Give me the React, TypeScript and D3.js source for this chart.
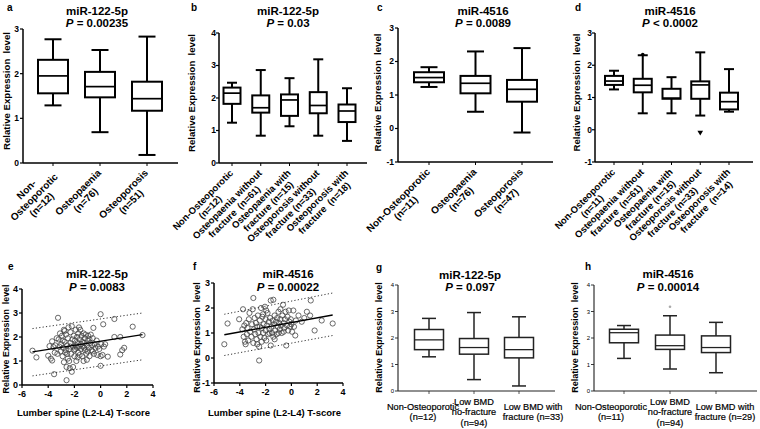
import React from 'react';
import * as d3 from 'd3';

const FONT = '"Liberation Sans", Arial, Helvetica, sans-serif';

// ---------- data ----------
// box stats: [lower whisker, Q1, median, Q3, upper whisker]
const aLabels = [["Non-", "Osteoporotic", "(n=12)"], ["Osteopaenia", "(n=76)"], ["Osteoporosis", "(n=51)"]];
const aStats = [[1.29, 1.56, 1.95, 2.31, 2.77], [0.69, 1.47, 1.71, 2.04, 2.53], [0.18, 1.17, 1.44, 1.82, 2.83]];
const aTicks = [0, 1, 2, 3];

const bLabels = [["Non-Osteoporotic", "(n=12)"], ["Osteopaenia without", "fracture  (n=61)"], ["Osteopaenia with", "fracture (n=15)"], ["Osteoporosis without", "fracture (n=33)"], ["Osteoporosis with", "fracture  (n=18)"]];
const bStats = [[1.24, 1.82, 2.15, 2.32, 2.47], [0.84, 1.55, 1.70, 2.08, 2.86], [1.13, 1.45, 1.94, 2.11, 2.61], [0.84, 1.53, 1.77, 2.18, 3.19], [0.68, 1.26, 1.60, 1.80, 2.30]];
const bTicks = [0, 1, 2, 3, 4];

const cLabels = [["Non-Osteoporotic", "(n=11)"], ["Osteopaenia", "(n=76)"], ["Osteoporosis", "(n=47)"]];
const cStats = [[1.24, 1.38, 1.52, 1.68, 1.83], [0.5, 1.05, 1.35, 1.57, 2.3], [-0.12, 0.8, 1.17, 1.45, 2.4]];
const cTicks = [-1, 0, 1, 2, 3];

const dLabels = [["Non-Osteoporotic", "(n=11)"], ["Osteopaenia without", "fracture  (n=61)"], ["Osteopaenia with", "fracture (n=15)"], ["Osteoporosis without", "fracture (n=33)"], ["Osteoporosis with", "fracture  (n=14)"]];
const dStats = [[1.25, 1.39, 1.51, 1.67, 1.83], [0.51, 1.16, 1.38, 1.58, 2.31], [0.51, 0.96, 0.98, 1.27, 1.63], [0.44, 0.96, 1.39, 1.5, 2.4], [0.56, 0.63, 0.87, 1.15, 1.88]];
const dOutliers = [[1, 2.33, 'dot'], [3, -0.08, 'tri']];
const dTicks = [-1, 0, 1, 2, 3];

const gLabels = [["Non-Osteoporotic", "(n=12)"], ["Low BMD", "no-fracture", "(n=94)"], ["Low BMD with", "fracture (n=33)"]];
const gStats = [[1.29, 1.56, 1.93, 2.32, 2.74], [0.43, 1.39, 1.64, 1.98, 2.96], [0.19, 1.25, 1.56, 2.02, 2.8]];
const gTicks = [0, 1, 2, 3, 4];

const hLabels = [["Non-Osteoporotic", "(n=11)"], ["Low BMD", "no-fracture", "(n=94)"], ["Low BMD with", "fracture (n=29)"]];
const hStats = [[1.23, 1.82, 2.2, 2.33, 2.47], [0.83, 1.57, 1.71, 2.11, 2.84], [0.69, 1.45, 1.64, 2.08, 2.59]];
const hOutliers = [[1, 3.18, 'small']];
const hTicks = [0, 1, 2, 3, 4];

// scatter e: [T-score, expression]
const ePoints = [[-5.2, 1.43], [-4.9, 1.15], [-4.0, 1.22], [-3.8, 1.1], [-3.7, 1.02], [-3.55, 0.45], [-3.9, 1.62], [-3.7, 1.82], [-3.6, 1.58], [-3.45, 1.65], [-3.3, 1.3], [-3.25, 2.8], [-3.2, 1.9], [-3.1, 2.15], [-3.05, 1.4], [-3.0, 1.7], [-2.95, 2.05], [-2.9, 1.2], [-2.85, 1.55], [-2.8, 2.3], [-2.8, 0.95], [-2.75, 1.8], [-2.7, 1.35], [-2.65, 2.1], [-2.6, 0.2], [-2.6, 0.75], [-2.55, 1.65], [-2.5, 1.95], [-2.5, 1.1], [-2.45, 2.4], [-2.4, 1.5], [-2.35, 0.7], [-2.3, 2.2], [-2.3, 1.75], [-2.25, 1.3], [-2.2, 0.55], [-2.2, 2.45], [-2.15, 1.9], [-2.1, 1.6], [-2.1, 0.75], [-2.05, 2.05], [-2.0, 1.45], [-2.0, 1.2], [-1.95, 1.85], [-1.9, 2.3], [-1.9, 1.65], [-1.85, 1.0], [-1.8, 1.55], [-1.8, 2.0], [-1.75, 1.75], [-1.7, 1.35], [-1.7, 2.15], [-1.65, 1.6], [-1.6, 1.9], [-1.6, 1.25], [-1.55, 2.3], [-1.5, 1.7], [-1.5, 1.5], [-1.45, 2.05], [-1.4, 1.8], [-1.4, 1.2], [-1.35, 1.6], [-1.3, 2.15], [-1.3, 1.0], [-1.25, 1.75], [-1.2, 1.45], [-1.2, 1.95], [-1.15, 2.1], [-1.1, 1.3], [-1.05, 1.65], [-1.0, 1.85], [-1.0, 1.4], [-0.95, 2.05], [-0.9, 1.55], [-0.85, 1.2], [-0.8, 1.75], [-0.75, 2.1], [-0.7, 1.45], [-0.65, 1.65], [-0.6, 1.95], [-0.55, 2.38], [-0.5, 1.3], [-0.45, 1.7], [-0.4, 1.55], [-0.3, 1.85], [-0.25, 1.25], [-0.2, 1.6], [-0.1, 1.5], [0.0, 2.95], [0.0, 0.8], [0.0, 1.2], [0.05, 1.7], [0.15, 1.25], [0.2, 2.53], [0.25, 1.6], [0.35, 1.7], [0.55, 1.18], [1.05, 2.75], [1.05, 2.0], [1.5, 2.0], [1.5, 1.27], [1.65, 1.45], [1.8, 1.55], [2.45, 2.43], [3.2, 2.08], [-2.9, 1.85], [-3.35, 1.95], [-3.5, 1.35], [-2.65, 1.45], [-2.4, 1.0], [-1.95, 1.5], [-1.75, 1.15], [-1.25, 1.55], [-0.85, 1.9], [-2.3, 1.6], [-1.65, 2.4], [-2.75, 2.25], [-3.15, 1.6], [-0.6, 1.4], [-1.05, 1.05], [-2.55, 1.3]];
const eFit = [[-5.2, 1.38], [3.2, 2.1]];
const eUpper = [[-5.2, 2.35], [3.2, 3.0]];
const eLower = [[-5.2, 0.38], [3.2, 1.05]];

const fPoints = [[-5.2, 0.55], [-4.95, 1.38], [-4.05, 1.55], [-3.75, 1.95], [-3.8, 1.15], [-3.7, 0.85], [-3.6, 0.65], [-3.55, 0.55], [-3.5, 1.4], [-3.45, 0.95], [-3.4, 1.2], [-3.35, 0.7], [-3.3, 1.55], [-3.2, 1.05], [-3.1, 0.85], [-3.05, 1.35], [-3.0, 1.95], [-2.95, 2.4], [-2.95, 0.6], [-2.9, 1.15], [-2.85, 1.6], [-2.8, 0.95], [-2.75, 1.4], [-2.7, 0.75], [-2.65, 1.25], [-2.6, 1.7], [-2.55, 1.0], [-2.5, -0.1], [-2.5, 0.45], [-2.45, 1.5], [-2.4, 0.85], [-2.35, 2.0], [-2.3, 1.2], [-2.3, 0.65], [-2.25, 1.65], [-2.2, 1.0], [-2.15, 1.35], [-2.1, 0.8], [-2.05, 2.05], [-2.0, 1.55], [-2.0, 1.1], [-1.95, 0.7], [-1.9, 1.3], [-1.85, 1.8], [-1.8, 0.95], [-1.75, 1.45], [-1.7, 1.15], [-1.65, 1.6], [-1.6, 2.3], [-1.6, 0.5], [-1.55, 1.25], [-1.5, 1.0], [-1.45, 1.5], [-1.4, 2.33], [-1.4, 0.85], [-1.35, 1.35], [-1.3, 1.7], [-1.25, 1.1], [-1.2, 1.45], [-1.15, 0.95], [-1.1, 1.6], [-1.05, 1.25], [-1.0, 1.85], [-1.0, 1.0], [-0.95, 1.4], [-0.9, 1.15], [-0.85, 1.55], [-0.8, 1.3], [-0.75, 1.0], [-0.7, 1.7], [-0.65, 2.13], [-0.6, 1.4], [-0.55, 1.2], [-0.5, 1.55], [-0.45, 1.85], [-0.4, 0.5], [-0.35, 1.3], [-0.3, 1.65], [-0.25, 1.1], [-0.2, 1.9], [-0.15, 1.45], [-0.1, 1.25], [-0.05, 1.55], [0.0, 1.35], [0.05, 1.05], [0.15, 1.9], [0.2, 1.25], [0.3, 0.9], [0.35, 1.5], [0.55, 1.7], [0.8, 1.45], [1.0, 1.6], [1.2, 1.85], [1.45, 1.7], [1.5, 2.3], [1.8, 1.1], [2.35, 1.5], [3.2, 1.38], [-2.65, 0.55], [-1.95, 1.9], [-3.25, 1.8], [-2.2, 1.75], [-1.3, 0.75], [-0.85, 1.95], [-1.7, 1.0], [-2.45, 1.25], [-0.6, 1.05], [-3.65, 1.3]];
const fFit = [[-5.2, 0.93], [3.2, 1.72]];
const fUpper = [[-5.2, 1.75], [3.2, 2.6]];
const fLower = [[-5.2, 0.1], [3.2, 0.9]];
const scatterXTicks = [-6, -4, -2, 0, 2, 4];

// ---------- helpers ----------
let _ctx: CanvasRenderingContext2D | null = null;
function measure(text: string, size: number, weight: string): number {
  if (!_ctx) {
    const c = document.createElement('canvas');
    _ctx = c.getContext('2d');
  }
  if (!_ctx) return text.length * size * 0.55;
  _ctx.font = `${weight} ${size}px "Liberation Sans", Arial, sans-serif`;
  return _ctx.measureText(text).width;
}

function Title({ letter, lx, ly, name, pText, cx, y1, y2 }: any) {
  return (
    <g fontFamily={FONT} fontWeight="bold" fill="#000">
      <text x={lx} y={ly} fontSize={10}>{letter}</text>
      <text x={cx} y={y1} fontSize={11.5} textAnchor="middle">{name}</text>
      <text x={cx} y={y2} fontSize={11.5} textAnchor="middle">
        <tspan fontStyle="italic">P</tspan>{' ' + pText}
      </text>
    </g>
  );
}

function YLabel({ x, y, size }: any) {
  return (
    <text transform={`translate(${x},${y}) rotate(-90)`} textAnchor="middle" dominantBaseline="central"
      fontFamily={FONT} fontWeight="bold" fontSize={size} fill="#000" style={{ whiteSpace: 'pre' }}>
      {'Relative Expression  level'}
    </text>
  );
}

function BoxPanel({ cfg }: any) {
  const y = d3.scaleLinear().domain([cfg.ticks[0], cfg.ticks[cfg.ticks.length - 1]]).range([cfg.yBottom, cfg.yTop]);
  const x = d3.scalePoint<number>().domain(d3.range(cfg.stats.length)).range([cfg.c0, cfg.c1]);
  const sw = cfg.sw;
  const col = cfg.color;
  const hw = cfg.boxW / 2;
  const cw = cfg.capW / 2;
  return (
    <g>
      <line x1={cfg.axisX} x2={cfg.axisX} y1={y(cfg.ticks[0])} y2={y(cfg.ticks[cfg.ticks.length - 1])} stroke={col} strokeWidth={sw * 0.75} />
      <line x1={cfg.axisX} x2={cfg.xEnd} y1={cfg.yBottom} y2={cfg.yBottom} stroke={col} strokeWidth={sw * 0.75} />
      {cfg.ticks.map((t: number) => (
        <g key={t}>
          <line x1={cfg.axisX - 3} x2={cfg.axisX} y1={y(t)} y2={y(t)} stroke={col} strokeWidth={sw * 0.6} />
          <text x={cfg.axisX - cfg.tickGap} y={y(t)} dy="0.35em" textAnchor="end" fontFamily={FONT}
            fontWeight={cfg.tickBold ? 'bold' : 'normal'} fontSize={cfg.tickSize} fill="#000">{t}</text>
        </g>
      ))}
      {cfg.stats.map((s: number[], i: number) => {
        const cx = x(i)!;
        return (
          <g key={i}>
            <line x1={cx} x2={cx} y1={cfg.yBottom} y2={cfg.yBottom + 3} stroke={col} strokeWidth={sw * 0.5} />
            <line x1={cx} x2={cx} y1={y(s[3])} y2={y(s[4])} stroke={col} strokeWidth={sw} />
            <line x1={cx} x2={cx} y1={y(s[1])} y2={y(s[0])} stroke={col} strokeWidth={sw} />
            <line x1={cx - cw} x2={cx + cw} y1={y(s[4])} y2={y(s[4])} stroke={col} strokeWidth={sw} />
            <line x1={cx - cw} x2={cx + cw} y1={y(s[0])} y2={y(s[0])} stroke={col} strokeWidth={sw} />
            <rect x={cx - hw} y={y(s[3])} width={cfg.boxW} height={y(s[1]) - y(s[3])} fill="#fff" stroke={col} strokeWidth={sw} />
            <line x1={cx - hw} x2={cx + hw} y1={y(s[2])} y2={y(s[2])} stroke={col} strokeWidth={sw * 0.85} />
          </g>
        );
      })}
      {(cfg.outliers || []).map((o: any, k: number) => {
        const cx = x(o[0])!;
        const cy = y(o[1]);
        if (o[2] === 'tri') {
          const p = d3.symbol(d3.symbolTriangle, 14)();
          return <path key={k} d={p!} transform={`translate(${cx},${cy}) rotate(180)`} fill="#000" />;
        }
        if (o[2] === 'dot') return <circle key={k} cx={cx} cy={cy} r={1.8} fill="#000" />;
        return <circle key={k} cx={cx} cy={cy} r={1.3} fill="#aaa" />;
      })}
      {cfg.labels.map((lines: string[], i: number) => {
        const cx = x(i)!;
        if (cfg.rotated) {
          const fs = cfg.labelSize;
          const lh = fs * 1.08;
          const W = Math.max(...lines.map((l) => measure(l, fs, 'bold')));
          const n = lines.length;
          return (
            <g key={i} transform={`translate(${cx + 3},${cfg.yBottom + 12}) rotate(-45)`}>
              {lines.map((l, j) => (
                <text key={j} x={-W / 2} y={(j - (n - 1) / 2) * lh} dy="0.35em" textAnchor="middle"
                  fontFamily={FONT} fontWeight="bold" fontSize={fs} fill="#000" style={{ whiteSpace: 'pre' }}>{l}</text>
              ))}
            </g>
          );
        }
        const fs = cfg.labelSize;
        const lh = 10.5;
        const n = lines.length;
        return (
          <g key={i}>
            {lines.map((l, j) => (
              <text key={j} x={cx + cfg.labelDx[i]} y={cfg.labelY + (j - (n - 1) / 2) * lh} dy="0.35em" textAnchor="middle"
                fontFamily={FONT} fontSize={fs} fill="#000" stroke="#000" strokeWidth={0.2}>{l}</text>
            ))}
          </g>
        );
      })}
    </g>
  );
}

function ScatterPanel({ cfg }: any) {
  const x = d3.scaleLinear().domain([-6, 4]).range([cfg.axisX, cfg.xEnd]);
  const y = d3.scaleLinear().domain([cfg.yTicks[0], cfg.yTicks[cfg.yTicks.length - 1]]).range([cfg.yBottom, cfg.yTop]);
  const line = d3.line<number[]>().x((d) => x(d[0])).y((d) => y(d[1]));
  return (
    <g>
      <line x1={cfg.axisX} x2={cfg.axisX} y1={cfg.yBottom} y2={cfg.yTop} stroke="#000" strokeWidth={1.5} />
      <line x1={cfg.axisX} x2={cfg.xEnd} y1={cfg.yBottom} y2={cfg.yBottom} stroke="#000" strokeWidth={1.5} />
      {cfg.yTicks.map((t: number) => (
        <g key={t}>
          <line x1={cfg.axisX - 3} x2={cfg.axisX} y1={y(t)} y2={y(t)} stroke="#000" strokeWidth={1.2} />
          <text x={cfg.axisX - 4} y={y(t)} dy="0.35em" textAnchor="end" fontFamily={FONT} fontWeight="bold" fontSize={9}>{t}</text>
        </g>
      ))}
      {scatterXTicks.map((t) => (
        <g key={t}>
          <line x1={x(t)} x2={x(t)} y1={cfg.yBottom} y2={cfg.yBottom + 3} stroke="#000" strokeWidth={1.2} />
          <text x={x(t)} y={cfg.yBottom + 12} textAnchor="middle" fontFamily={FONT} fontWeight="bold" fontSize={9}>{t}</text>
        </g>
      ))}
      {cfg.points.map((p: number[], i: number) => (
        <circle key={i} cx={x(p[0])} cy={y(p[1])} r={2.6} fill="none" stroke="#444" strokeWidth={0.8} />
      ))}
      <path d={line(cfg.fit)!} stroke="#000" strokeWidth={1.3} fill="none" />
      <path d={line(cfg.upper)!} stroke="#333" strokeWidth={1} strokeDasharray="1.2,2.2" fill="none" />
      <path d={line(cfg.lower)!} stroke="#333" strokeWidth={1} strokeDasharray="1.2,2.2" fill="none" />
      <text x={(cfg.axisX + cfg.xEnd) / 2 - 4} y={cfg.xLabelY} textAnchor="middle" fontFamily={FONT} fontWeight="bold" fontSize={9.5}>
        Lumber spine (L2-L4) T-score
      </text>
    </g>
  );
}

export default function App() {
  const topBase = { sw: 2, color: '#000', tickBold: true, tickSize: 8.5, tickGap: 4, rotated: true };
  const a = { ...topBase, stats: aStats, labels: aLabels, ticks: aTicks, axisX: 23, xEnd: 178, yTop: 29, yBottom: 163, c0: 53, c1: 147, boxW: 30, capW: 17, labelSize: 10 };
  const b = { ...topBase, stats: bStats, labels: bLabels, ticks: bTicks, axisX: 219, xEnd: 367, yTop: 33, yBottom: 163, c0: 232, c1: 347, boxW: 17, capW: 10, labelSize: 9.5, tickGap: 3 };
  const c = { ...topBase, stats: cStats, labels: cLabels, ticks: cTicks, axisX: 398, xEnd: 553, yTop: 28, yBottom: 162, c0: 429, c1: 522, boxW: 30, capW: 17, labelSize: 10 };
  const d = { ...topBase, stats: dStats, labels: dLabels, ticks: dTicks, outliers: dOutliers, axisX: 595, xEnd: 753, yTop: 33, yBottom: 162, c0: 614, c1: 729, boxW: 18, capW: 10, labelSize: 9.5, tickGap: 3 };
  const botBase = { sw: 1.5, color: '#222', tickBold: false, tickSize: 6, tickGap: 4, rotated: false, labelSize: 9.2, labelY: 412 };
  const g = { ...botBase, stats: gStats, labels: gLabels, ticks: gTicks, axisX: 398, xEnd: 555, yTop: 285, yBottom: 391, c0: 429, c1: 519, boxW: 29, capW: 14, labelDx: [-6, 0, 14] };
  const h = { ...botBase, stats: hStats, labels: hLabels, ticks: hTicks, outliers: hOutliers, axisX: 594, xEnd: 757, yTop: 285, yBottom: 391, c0: 624, c1: 716, boxW: 29, capW: 14, labelDx: [-13, 0, 9] };
  const e = { points: ePoints, fit: eFit, upper: eUpper, lower: eLower, axisX: 22, xEnd: 153, yTop: 289, yBottom: 385, yTicks: [0, 1, 2, 3, 4], xLabelY: 416 };
  const f = { points: fPoints, fit: fFit, upper: fUpper, lower: fLower, axisX: 214, xEnd: 343, yTop: 283, yBottom: 383, yTicks: [-1, 0, 1, 2, 3], xLabelY: 416 };

  return (
    <svg width={760} height={429} style={{ position: 'absolute', left: 0, top: 0, background: '#fff' }}>
      <rect width={760} height={429} fill="#fff" />
      <BoxPanel cfg={a} />
      <BoxPanel cfg={b} />
      <BoxPanel cfg={c} />
      <BoxPanel cfg={d} />
      <ScatterPanel cfg={e} />
      <ScatterPanel cfg={f} />
      <BoxPanel cfg={g} />
      <BoxPanel cfg={h} />

      <Title letter="a" lx={7} ly={10.5} name="miR-122-5p" pText="= 0.00235" cx={97} y1={14.5} y2={26.5} />
      <Title letter="b" lx={191} ly={10.5} name="miR-122-5p" pText="= 0.03" cx={288} y1={14.5} y2={26.5} />
      <Title letter="c" lx={377} ly={10.5} name="miR-4516" pText="= 0.0089" cx={483} y1={14.5} y2={26.5} />
      <Title letter="d" lx={575} ly={10.5} name="miR-4516" pText="< 0.0002" cx={670} y1={14.5} y2={26.5} />
      <Title letter="e" lx={8} ly={270} name="miR-122-5p" pText="= 0.0083" cx={97} y1={277.5} y2={291} />
      <Title letter="f" lx={193} ly={270} name="miR-4516" pText="= 0.00022" cx={288} y1={277.5} y2={291} />
      <Title letter="g" lx={376} ly={271} name="miR-122-5p" pText="= 0.097" cx={470} y1={278.5} y2={291} />
      <Title letter="h" lx={585} ly={270} name="miR-4516" pText="= 0.00014" cx={668} y1={278} y2={291} />

      <YLabel x={6} y={91} size={9.6} />
      <YLabel x={191} y={93} size={9.6} />
      <YLabel x={377} y={92.5} size={9.6} />
      <YLabel x={576} y={92.5} size={9.6} />
      <YLabel x={6} y={339} size={8.9} />
      <YLabel x={197} y={337.5} size={9} />
      <YLabel x={379} y={337.5} size={9} />
      <YLabel x={575} y={337.5} size={9} />
    </svg>
  );
}
